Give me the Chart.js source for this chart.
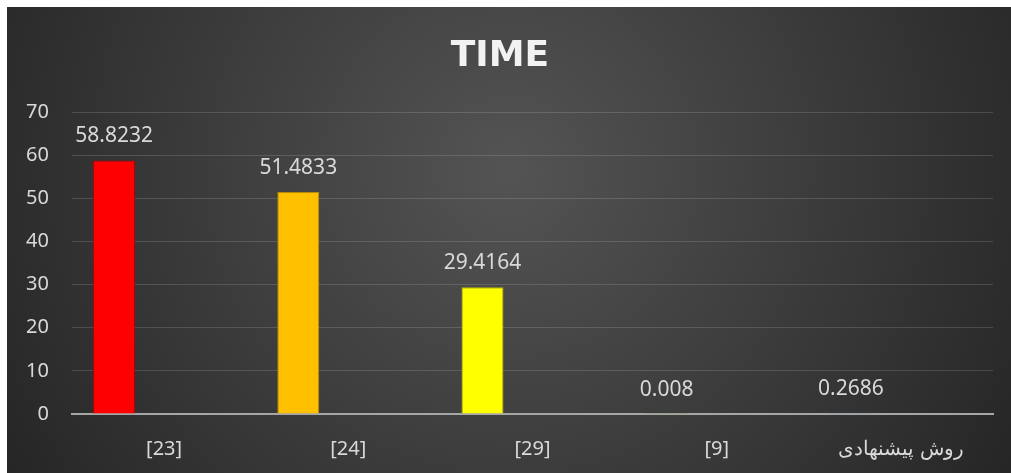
<!DOCTYPE html>
<html>
<head>
<meta charset="utf-8">
<script src="https://cdn.jsdelivr.net/npm/chart.js@4.4.1/dist/chart.umd.min.js"></script>
<style>
  html, body { margin: 0; padding: 0; background: #fff; }
  #wrap { position: absolute; left: 7px; top: 7px; width: 1004px; height: 466px; }
</style>
</head>
<body>
<div id="wrap"><canvas id="timeChart"></canvas></div>
<script>
const categories = ['[23]', '[24]', '[29]', '[9]', 'روش پیشنهادی'];
const timeValues = [58.8232, 51.4833, 29.4164, 0.008, 0.2686];
const emptySeries = [null, null, null, null, null];
const barColors = ['#ff0000', '#ffc000', '#ffff00', '#70ad47', '#7f9fc4'];
const barEdges = ['#b00000', '#b88a00', '#b8b800', '#4e7a30', '#5a7896'];
const yTicks = [0, 10, 20, 30, 40, 50, 60, 70];

const bgPlugin = {
    id: 'bg',
    beforeDraw(chart) {
        const ctx = chart.ctx;
        const w = chart.width, h = chart.height;
        const g = ctx.createRadialGradient(w * 0.5, h * 0.35, 10, w * 0.5, h * 0.35, w * 0.58);
        g.addColorStop(0, '#535353');
        g.addColorStop(1, '#262626');
        ctx.save();
        ctx.fillStyle = g;
        ctx.fillRect(0, 0, w, h);
        ctx.restore();
    }
};

const labelPlugin = {
    id: 'barLabels',
    afterDatasetsDraw(chart) {
        const ctx = chart.ctx;
        const meta = chart.getDatasetMeta(0);
        ctx.save();
        ctx.font = '21px "Noto Sans"';
        ctx.fillStyle = '#d9d9d9';
        ctx.textAlign = 'center';
        ctx.textBaseline = 'alphabetic';
        meta.data.forEach((bar, i) => {
            ctx.fillText(String(timeValues[i]), bar.x, bar.y - 18);
        });
        ctx.restore();
    }
};

const ctx = document.getElementById('timeChart').getContext('2d');
new Chart(ctx, {
    type: 'bar',
    data: {
        labels: categories,
        datasets: [
            {
                label: 'TIME',
                data: timeValues,
                backgroundColor: barColors,
                borderColor: barEdges,
                borderWidth: 1,
                categoryPercentage: 1.086,
                barPercentage: 0.42
            },
            {
                label: '',
                data: emptySeries,
                categoryPercentage: 1.086,
                barPercentage: 0.42
            }
        ]
    },
    plugins: [bgPlugin, labelPlugin],
    options: {
        responsive: true,
        maintainAspectRatio: false,
        animation: false,
        layout: { padding: { left: 0, right: 18, top: 0, bottom: 9 } },
        plugins: {
            legend: { display: false },
            tooltip: { enabled: false },
            title: {
                display: true,
                text: 'TIME',
                color: '#f2f2f2',
                font: { family: 'DejaVu Sans', size: 36, weight: 'bold' },
                padding: { top: 28, bottom: 34 }
            }
        },
        scales: {
            x: {
                afterFit(scale) {
                    scale.height = 50;
                },
                grid: { display: false, drawTicks: false },
                border: { display: true, color: '#a6a6a6', width: 2 },
                ticks: {
                    color: '#d9d9d9',
                    font: { family: 'Noto Sans', size: 20 },
                    padding: 23,
                    maxRotation: 0
                }
            },
            y: {
                min: 0,
                max: 70,
                afterBuildTicks(scale) {
                    scale.ticks = yTicks.map(v => ({ value: v }));
                },
                afterFit(scale) {
                    scale.width = 65;
                },
                grid: { color: 'rgba(255,255,255,0.14)', lineWidth: 1, drawTicks: false },
                border: { display: false },
                ticks: {
                    color: '#d9d9d9',
                    font: { family: 'Noto Sans', size: 20 },
                    padding: 23
                }
            }
        }
    }
});
</script>
</body>
</html>
